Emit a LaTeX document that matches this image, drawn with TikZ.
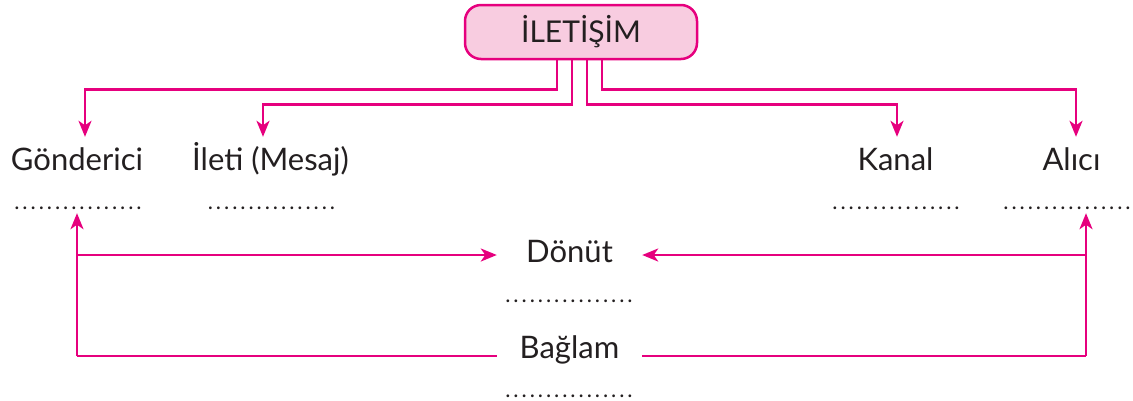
\documentclass[tikz,border=0pt]{standalone}
\usepackage{fontspec}
\setmainfont{Lato}
\newfontfamily\dotfont[LetterSpace=13.4]{Lato}
\usetikzlibrary{arrows.meta,calc}
\definecolor{mag}{HTML}{E6007E}
\definecolor{pinkfill}{HTML}{F8CCE0}
\definecolor{txt}{HTML}{231F20}
\begin{document}
\begin{tikzpicture}[x=1pt,y=-1pt,
  conn/.style={draw=mag,line width=2.5pt},
  arr/.style={conn,-{Stealth[length=16pt,width=13pt,inset=4.5pt]}},
  topbox/.style={draw=mag,fill=pinkfill,line width=2.5pt,rounded corners=16pt,
    minimum width=232pt,minimum height=54pt,inner sep=0pt,text=txt,
    font=\fontsize{30}{31}\selectfont},
  lbl/.style={anchor=base,font=\fontsize{31}{32}\selectfont,text=txt,
    inner xsep=0pt,inner ysep=9pt,text height=24pt,text depth=6pt},
  midlbl/.style={anchor=base,font=\fontsize{31}{32}\selectfont,text=txt,
    inner xsep=0pt,inner ysep=0pt,text height=20pt,text depth=6pt,minimum width=145pt},
  dotrow/.style={anchor=base,font=\dotfont\fontsize{22}{22}\selectfont,text=txt,
    inner xsep=0pt,inner ysep=4pt,text height=3pt,text depth=0pt}
]
\useasboundingbox (0,0) rectangle (1133,400);

\node[topbox] (ilt) at (581,32) {İLETİŞİM};

\node[lbl] (gon) at (77,170) {Gönderici};
\node[lbl] (ile) at (270.5,170) {İleti (Mesaj)};
\node[lbl] (kan) at (895.5,170) {Kanal};
\node[lbl] (alc) at (1071.5,170) {Alıcı};

\node[dotrow] (gond) at (78,209) {................};
\node[dotrow] (iled) at (271.5,209) {................};
\node[dotrow] (kand) at (896,209) {................};
\node[dotrow] (alcd) at (1067,209) {................};

\node[midlbl] (don) at (569.5,262) {Dönüt};
\node[dotrow] (dond) at (569,302) {................};
\node[midlbl] (bag) at (569.5,358) {Bağlam};
\node[dotrow] (bagd) at (569,397) {................};

\draw[arr] ([xshift=-24pt]ilt.south) -- ++(0,29) -| ([xshift=8pt]gon.north);
\draw[arr] ([xshift=-9pt]ilt.south) -- ++(0,44) -| ([xshift=-7.5pt]ile.north);
\draw[arr] ([xshift=6pt]ilt.south) -- ++(0,44) -| ([xshift=1.5pt]kan.north);
\draw[arr] ([xshift=21pt]ilt.south) -- ++(0,29) -| ([xshift=4.5pt]alc.north);

\coordinate (gl) at (77,356);
\coordinate (ar) at (1086,356);
\draw[arr] (gl) -- ([xshift=-1pt]gond.south);
\draw[arr] (ar) -- ([xshift=19pt]alcd.south);
\draw[conn] (gl) -- (gl -| bag.west);
\draw[conn] (ar) -- (ar -| bag.east);
\draw[arr] (gl |- don.west) -- (don.west);
\draw[arr] (ar |- don.east) -- (don.east);
\end{tikzpicture}
\end{document}
